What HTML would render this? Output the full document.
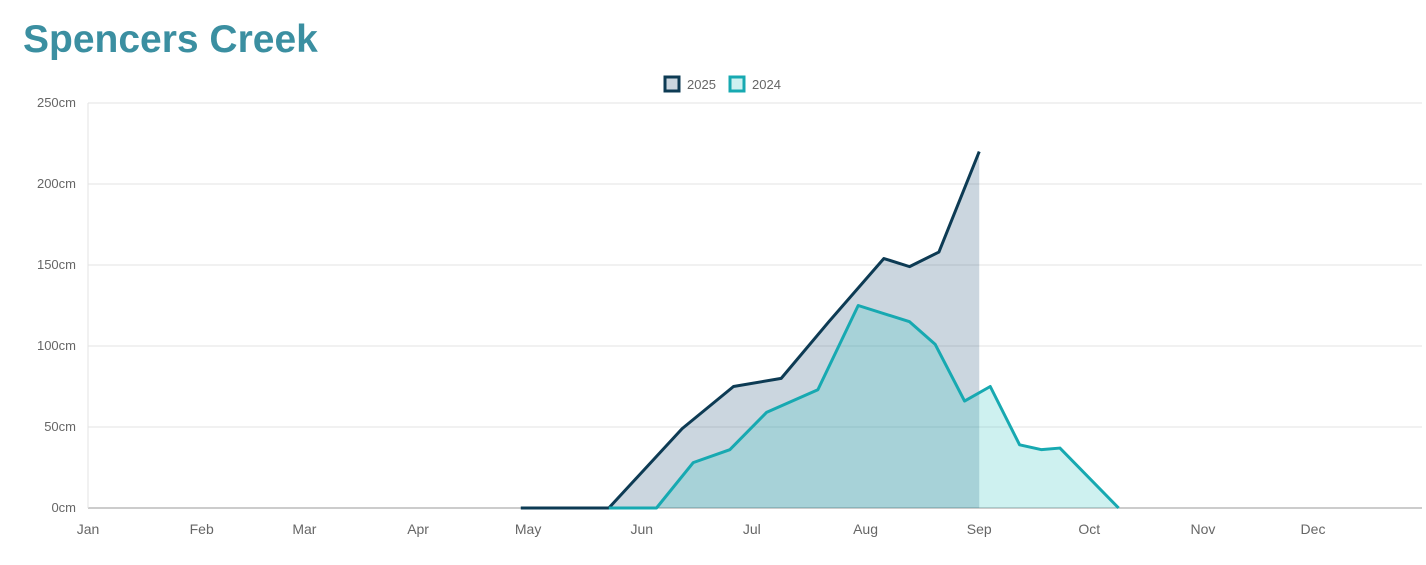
<!DOCTYPE html>
<html><head><meta charset="utf-8"><style>
body{margin:0;background:#fff;width:1426px;height:565px;overflow:hidden;font-family:"Liberation Sans",sans-serif}
h1{position:absolute;left:23px;top:18px;margin:0;font-size:39px;font-weight:bold;color:#3b8fa1}
</style></head><body>
<h1>Spencers Creek</h1>
<svg id="c" width="1426" height="565" style="position:absolute;left:0;top:0"></svg>
<script>
const months=["Jan","Feb","Mar","Apr","May","Jun","Jul","Aug","Sep","Oct","Nov","Dec"];
const monthStartDays=[0,31,59,90,120,151,181,212,243,273,304,334];
const yTicks=[0,50,100,150,200,250];
const days2025=[118,142,162,176,189,202,217,224,232,243];
const vals2025=[0,0,49,75,80,115,154,149,158,220];
const days2024=[142,155,165,175,185,199,210,224,231,239,246,254,260,265,281];
const vals2024=[0,0,28,36,59,73,125,115,101,66,75,39,36,37,0];
const NS="http://www.w3.org/2000/svg",svg=document.getElementById('c');
const X=d=>88+d*(1225/334), Y=v=>508-v*1.62;
function el(t,a,p){const e=document.createElementNS(NS,t);for(const k in a)e.setAttribute(k,a[k]);(p||svg).appendChild(e);return e;}
yTicks.forEach(v=>{
 const g=el('line',{x1:88,x2:1422,y1:Y(v),y2:Y(v),stroke:v?'#e3e3e3':'#999','stroke-width':1});
 
 
 const t=el('text',{x:76,y:Y(v)+4,'text-anchor':'end','font-size':13,fill:'#666'});t.textContent=v+'cm';
 
 
});
el('line',{x1:88,x2:88,y1:103,y2:508,stroke:'#e3e3e3'});
months.forEach((m,i)=>{
 const x=X(monthStartDays[i]);
 const t=el('text',{x:x,y:534,'text-anchor':'middle','font-size':14,fill:'#666'});t.textContent=m;
 
 
});
function area(days,vals,fill,name){
 const pts=days.map((d,i)=>X(d)+','+Y(vals[i]));
 const a=el('polygon',{points:pts.join(' ')+' '+X(days[days.length-1])+','+Y(0)+' '+X(days[0])+','+Y(0),fill:fill});
 
 
}
function line(days,vals,color,name){
 const pts=days.map((d,i)=>X(d)+','+Y(vals[i]));
 const l=el('polyline',{points:pts.join(' '),fill:'none',stroke:color,'stroke-width':3,'stroke-linejoin':'round'});
 
 
}
area(days2025,vals2025,'rgba(20,70,110,0.22)','series-2025');
area(days2024,vals2024,'rgba(60,200,195,0.25)','series-2024');
line(days2025,vals2025,'#0d3b54','series-2025');
line(days2024,vals2024,'#17a9b1','series-2024');
[[665,'#0d3b54','rgba(20,70,110,0.22)','2025'],[730,'#17a9b1','rgba(60,200,195,0.25)','2024']].forEach(([x,s,f,n])=>{
 const r=el('rect',{x:x,y:77,width:14,height:14,fill:f,stroke:s,'stroke-width':3});
 
 
 const t=el('text',{x:x+22,y:89,'font-size':13,fill:'#666'});t.textContent=n;
});
</script></body></html>
